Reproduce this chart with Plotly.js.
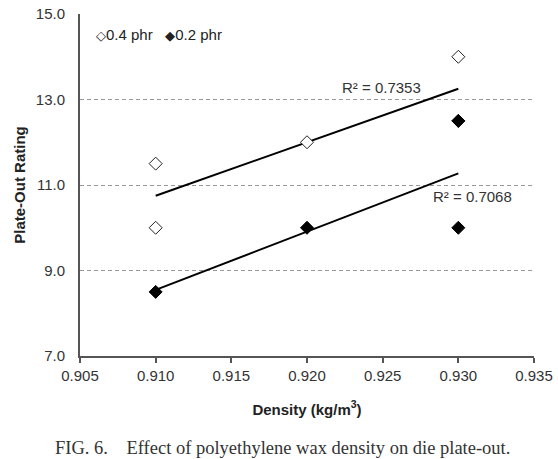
<!DOCTYPE html>
<html>
<head>
<meta charset="utf-8">
<script src="https://cdn.plot.ly/plotly-3.0.1.min.js"></script>
<style>html,body{margin:0;padding:0;background:#fff;overflow:hidden;}#chart{width:558px;height:459px;}</style>
</head>
<body>
<div id="chart"></div>
<script>
// Data
const density04 = [0.910, 0.910, 0.920, 0.930, 0.930];
const rating04  = [11.5, 10.0, 12.0, 14.0, 12.5];
const density02 = [0.910, 0.920, 0.930, 0.930];
const rating02  = [8.5, 10.0, 12.5, 10.0];
const seriesNames = ['0.4 phr', '0.2 phr'];
const r2Labels = ['R² = 0.7353', 'R² = 0.7068'];
const xTicks = [0.905, 0.910, 0.915, 0.920, 0.925, 0.930, 0.935];
const yTicks = [7.0, 9.0, 11.0, 13.0, 15.0];

function linfit(xs, ys) {
  const n = xs.length;
  const mx = xs.reduce((a,b)=>a+b,0)/n, my = ys.reduce((a,b)=>a+b,0)/n;
  let sxy = 0, sxx = 0;
  for (let i=0;i<n;i++){ sxy += (xs[i]-mx)*(ys[i]-my); sxx += (xs[i]-mx)**2; }
  const m = sxy/sxx, b = my - m*mx;
  const x0 = Math.min(...xs), x1 = Math.max(...xs);
  return {x:[x0,x1], y:[m*x0+b, m*x1+b]};
}
const fit04 = linfit(density04, rating04);
const fit02 = linfit(density02, rating02);

const traces = [
  {x: fit04.x, y: fit04.y, mode:'lines', line:{color:'#000', width:2}, showlegend:false, hoverinfo:'skip'},
  {x: fit02.x, y: fit02.y, mode:'lines', line:{color:'#000', width:2}, showlegend:false, hoverinfo:'skip'},
  {x: density04, y: rating04, name: seriesNames[0], mode:'markers', type:'scatter', showlegend:false,
   marker:{symbol:'diamond', size:10, color:'#fff', line:{color:'#222', width:1}}},
  {x: density02, y: rating02, name: seriesNames[1], mode:'markers', type:'scatter', showlegend:false,
   marker:{symbol:'diamond', size:10, color:'#000', line:{color:'#000', width:1}}}
];

const sp = '\u00a0';
const legendText = '<span style="font-size:13px">\u25C7</span>' + seriesNames[0] + sp + sp + sp +
                   '<span style="font-size:13px">\u25C6</span>' + seriesNames[1];

const layout = {
  width:558, height:459,
  margin:{l:80, r:24, t:14, b:103},
  paper_bgcolor:'#fff', plot_bgcolor:'#fff',
  font:{family:'Liberation Sans, Arial, sans-serif', size:15, color:'#333'},
  showlegend:false,
  xaxis:{range:[0.905,0.935], tickvals:xTicks, ticktext:xTicks.map(v=>v.toFixed(3)),
         showline:true, linecolor:'#555', linewidth:2, ticks:'outside', ticklen:5, tickcolor:'#555', tickwidth:2,
         showgrid:false, zeroline:false, tickfont:{size:15, color:'#333'},
         title:{text:'<b>Density (kg/m<sup>3</sup>)</b>', font:{size:15, color:'#222'}, standoff:21}},
  yaxis:{range:[7,15], tickvals:yTicks, ticktext:yTicks.map(v=>v.toFixed(1)),
         showline:true, linecolor:'#555', linewidth:2, ticks:'', ticklabelstandoff:10,
         showgrid:true, gridcolor:'#999', griddash:'4px,3px', gridwidth:1, zeroline:false,
         tickfont:{size:15, color:'#333'},
         title:{text:'<b>Plate-Out Rating</b>', font:{size:15, color:'#222'}, standoff:7}},
  annotations:[
    {x:(94-80)/454, y:(356-35)/342, xref:'paper', yref:'paper', xanchor:'left', yanchor:'middle',
     text:legendText, showarrow:false, font:{size:15, color:'#222'}},
    {x:0.92489, y:13.27, xref:'x', yref:'y', text:r2Labels[0], showarrow:false, font:{size:15, color:'#333'}},
    {x:0.93094, y:10.72, xref:'x', yref:'y', text:r2Labels[1], showarrow:false, font:{size:15, color:'#333'}},
    {x:(282-80)/454, y:-0.268, xref:'paper', yref:'paper', xanchor:'center', yanchor:'middle', showarrow:false,
     text:'FIG. 6.' + sp + sp + sp + sp + 'Effect of polyethylene wax density on die plate-out.',
     font:{family:'Liberation Serif, Times New Roman, serif', size:18.5, color:'#333'}}
  ]
};
Plotly.newPlot('chart', traces, layout, {displayModeBar:false, staticPlot:true});
</script>
</body>
</html>
